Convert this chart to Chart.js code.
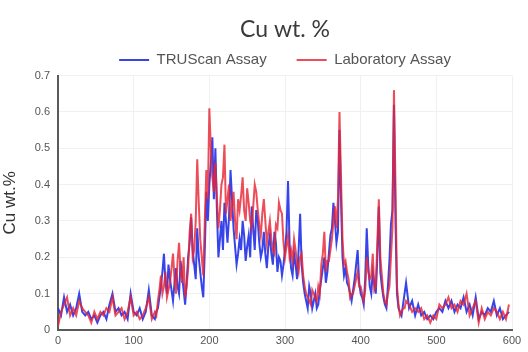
<!DOCTYPE html>
<html>
<head>
<meta charset="utf-8">
<script src="https://cdn.jsdelivr.net/npm/chart.js@4.4.0/dist/chart.umd.min.js"></script>
<style>
  html, body { margin: 0; padding: 0; background: #fff; }
  #wrap { width: 528px; height: 352px; }
</style>
</head>
<body>
<div id="wrap"><canvas id="cu" width="528" height="352"></canvas></div>
<script>
// sample depth (x) positions: every 4 at the quiet ends, every 2 in the busy middle
const depth = [
  0, 4, 8, 12, 16, 20, 24, 28, 32, 36,
  40, 44, 48, 52, 56, 60, 64, 68, 72, 76,
  80, 84, 88, 92, 96, 100, 104, 108, 112, 116,
  120, 124, 128,
  130, 132, 134, 136, 138, 140, 142, 144, 146, 148,
  150, 152, 154, 156, 158, 160, 162, 164, 166, 168,
  170, 172, 174, 176, 178, 180, 182, 184, 186, 188,
  190, 192, 194, 196, 198, 200, 202, 204, 206, 208,
  210, 212, 214, 216, 218, 220, 222, 224, 226, 228,
  230, 232, 234, 236, 238, 240, 242, 244, 246, 248,
  250, 252, 254, 256, 258, 260, 262, 264, 266, 268,
  270, 272, 274, 276, 278, 280, 282, 284, 286, 288,
  290, 292, 294, 296, 298, 300, 302, 304, 306, 308,
  310, 312, 314, 316, 318, 320, 322, 324, 326, 328,
  330, 332, 334, 336, 338, 340, 342, 344, 346, 348,
  350, 352, 354, 356, 358, 360, 362, 364, 366, 368,
  370, 372, 374, 376, 378, 380, 382, 384, 386, 388,
  390, 392, 394, 396, 398, 400, 402, 404, 406, 408,
  410, 412, 414, 416, 418, 420, 422, 424, 426, 428,
  430, 432, 434, 436, 438, 440, 442, 444, 446, 448,
  450, 452, 454, 456, 458, 460,
  464, 468, 472, 476,
  480, 484, 488, 492, 496, 500, 504, 508, 512, 516,
  520, 524, 528, 532, 536, 540, 544, 548, 552, 556,
  560, 564, 568, 572, 576, 580, 584, 588, 592, 596
];

const truscan = [
  0.06, 0.04, 0.09, 0.05, 0.07, 0.04, 0.06, 0.10, 0.05, 0.04,
  0.05, 0.03, 0.04, 0.02, 0.04, 0.05, 0.03, 0.07, 0.10, 0.05,
  0.06, 0.04, 0.05, 0.03, 0.10, 0.05, 0.04, 0.06, 0.03, 0.05,
  0.11, 0.04, 0.03,
  0.05, 0.06, 0.09, 0.12, 0.16, 0.21, 0.13, 0.10, 0.18, 0.14,
  0.11, 0.08, 0.13, 0.17, 0.12, 0.10, 0.19, 0.15, 0.11, 0.07,
  0.13, 0.20, 0.24, 0.31, 0.22, 0.18, 0.14, 0.28, 0.20, 0.16,
  0.12, 0.09, 0.22, 0.38, 0.30, 0.40, 0.46, 0.53, 0.36, 0.50,
  0.33, 0.20, 0.25, 0.30, 0.22, 0.35, 0.30, 0.24, 0.31, 0.44,
  0.36, 0.28, 0.23, 0.18, 0.21, 0.25, 0.22, 0.30, 0.26, 0.19,
  0.23, 0.26, 0.20, 0.34, 0.28, 0.22, 0.33, 0.30, 0.24, 0.20,
  0.22, 0.27, 0.21, 0.17, 0.23, 0.26, 0.21, 0.18, 0.27, 0.24,
  0.16, 0.20, 0.19, 0.15, 0.18, 0.22, 0.27, 0.41, 0.24, 0.17,
  0.15, 0.21, 0.18, 0.14, 0.22, 0.32, 0.18, 0.13, 0.10, 0.08,
  0.06, 0.12, 0.10, 0.06, 0.08, 0.10, 0.06, 0.07, 0.11, 0.14,
  0.17, 0.20, 0.13, 0.16, 0.21, 0.26, 0.28, 0.35, 0.30, 0.24,
  0.27, 0.55, 0.36, 0.20, 0.15, 0.17, 0.13, 0.12, 0.10, 0.08,
  0.11, 0.14, 0.18, 0.22, 0.13, 0.10, 0.09, 0.07, 0.14, 0.28,
  0.18, 0.12, 0.10, 0.16, 0.13, 0.10, 0.20, 0.34, 0.16, 0.12,
  0.09, 0.07, 0.06, 0.12, 0.19, 0.29, 0.33, 0.62, 0.30, 0.10,
  0.06, 0.05, 0.04, 0.07, 0.10, 0.13,
  0.06, 0.08, 0.04, 0.07,
  0.04, 0.05, 0.03, 0.04, 0.03, 0.05, 0.06, 0.05, 0.08, 0.06,
  0.08, 0.05, 0.07, 0.06, 0.09, 0.05, 0.07, 0.04, 0.09, 0.03,
  0.05, 0.04, 0.06, 0.05, 0.08, 0.04, 0.06, 0.03, 0.04, 0.05
];

const laboratory = [
  0.01, 0.05, 0.07, 0.09, 0.04, 0.06, 0.04, 0.08, 0.06, 0.05,
  0.04, 0.02, 0.05, 0.03, 0.05, 0.04, 0.06, 0.05, 0.09, 0.04,
  0.05, 0.06, 0.03, 0.05, 0.09, 0.04, 0.05, 0.03, 0.04, 0.06,
  0.09, 0.03, 0.05,
  0.04, 0.08, 0.11, 0.15, 0.10, 0.12, 0.16, 0.09, 0.11, 0.13,
  0.17, 0.21, 0.14, 0.10, 0.19, 0.24, 0.16, 0.13, 0.20, 0.09,
  0.12, 0.17, 0.27, 0.32, 0.20, 0.22, 0.30, 0.47, 0.35, 0.25,
  0.20, 0.15, 0.30, 0.44, 0.36, 0.61, 0.50, 0.42, 0.38, 0.46,
  0.36, 0.28, 0.33, 0.40, 0.42, 0.51, 0.32, 0.36, 0.40, 0.30,
  0.34, 0.38, 0.30, 0.25, 0.36, 0.33, 0.37, 0.42, 0.33, 0.30,
  0.39, 0.35, 0.30, 0.28, 0.34, 0.40, 0.38, 0.33, 0.29, 0.26,
  0.32, 0.36, 0.30, 0.24, 0.27, 0.30, 0.25, 0.22, 0.21, 0.29,
  0.28, 0.35, 0.33, 0.32, 0.24, 0.20, 0.23, 0.26, 0.20, 0.22,
  0.19, 0.25, 0.22, 0.18, 0.16, 0.20, 0.21, 0.15, 0.12, 0.10,
  0.09, 0.08, 0.07, 0.11, 0.10, 0.09, 0.08, 0.12, 0.10, 0.18,
  0.21, 0.27, 0.16, 0.19, 0.19, 0.22, 0.25, 0.30, 0.34, 0.28,
  0.36, 0.60, 0.42, 0.25, 0.18, 0.19, 0.16, 0.14, 0.09, 0.10,
  0.10, 0.12, 0.14, 0.16, 0.12, 0.12, 0.10, 0.08, 0.11, 0.20,
  0.16, 0.14, 0.15, 0.21, 0.11, 0.12, 0.24, 0.36, 0.20, 0.15,
  0.10, 0.08, 0.07, 0.10, 0.12, 0.20, 0.28, 0.66, 0.40, 0.12,
  0.07, 0.04, 0.05, 0.06, 0.06, 0.08,
  0.07, 0.05, 0.06, 0.05,
  0.06, 0.03, 0.04, 0.02, 0.04, 0.03, 0.07, 0.06, 0.07, 0.09,
  0.06, 0.07, 0.05, 0.08, 0.07, 0.10, 0.04, 0.06, 0.08, 0.02,
  0.06, 0.03, 0.05, 0.04, 0.06, 0.05, 0.03, 0.05, 0.03, 0.07
];

const yTicks = [0, 0.1, 0.2, 0.3, 0.4, 0.5, 0.6, 0.7];
const xTicks = [0, 100, 200, 300, 400, 500, 600];

const toPoints = (vals) => vals.map((v, i) => ({ x: depth[i], y: v }));

const ctx = document.getElementById('cu').getContext('2d');

new Chart(ctx, {
  type: 'line',
  data: {
    datasets: [
      {
        label: 'TRUScan Assay',
        data: toPoints(truscan),
        borderColor: 'rgba(38, 52, 232, 0.92)',
        backgroundColor: 'rgba(38, 52, 232, 0.92)',
        borderWidth: 2,
        pointRadius: 0,
        tension: 0,
        order: 2,
      },
      {
        label: 'Laboratory Assay',
        data: toPoints(laboratory),
        borderColor: 'rgba(232, 38, 52, 0.82)',
        backgroundColor: 'rgba(232, 38, 52, 0.82)',
        borderWidth: 2,
        pointRadius: 0,
        tension: 0,
        order: 1,
      },
    ],
  },
  options: {
    responsive: false,
    animation: false,
    layout: { padding: { left: 0, right: 16, top: 0, bottom: 0 } },
    plugins: {
      title: {
        display: true,
        fullSize: false,
        text: 'Cu wt. %',
        color: '#3a3a3a',
        font: { family: 'Lato', size: 23, weight: 'normal' },
        padding: { top: 16, bottom: -21 },
      },
      legend: {
        position: 'top',
        fullSize: false,
        maxHeight: 53,
        labels: {
          color: '#555',
          font: { family: 'Liberation Sans', size: 15 },
          boxWidth: 30,
          boxHeight: 2,
          padding: 30,
          sort: (a, b) => a.datasetIndex - b.datasetIndex,
          generateLabels: (chart) => {
            const items = Chart.defaults.plugins.legend.labels.generateLabels(chart);
            items.forEach(it => { it.lineWidth = 0; });
            return items;
          },
        },
      },
      tooltip: { enabled: false },
    },
    scales: {
      x: {
        type: 'linear',
        min: 0,
        max: 600,
        afterBuildTicks: (s) => { s.ticks = xTicks.map(v => ({ value: v })); },
        afterFit: (s) => { s.height = 22; },
        ticks: { color: '#555', font: { family: 'Liberation Sans', size: 11 }, padding: 4, maxRotation: 0 },
        grid: { color: '#f0f0f0', drawTicks: false },
        border: { color: '#5a5a5a', width: 2 },
      },
      y: {
        min: 0,
        max: 0.7,
        afterBuildTicks: (s) => { s.ticks = yTicks.map(v => ({ value: v })); },
        afterFit: (s) => { s.width = 58; },
        ticks: { color: '#555', font: { family: 'Liberation Sans', size: 11 }, padding: 8 },
        grid: { color: '#f0f0f0', drawTicks: false },
        border: { color: '#5a5a5a', width: 2 },
        title: {
          display: true,
          text: 'Cu wt.%',
          color: '#333',
          font: { family: 'Liberation Sans', size: 17 },
          padding: { top: 0, bottom: 0 },
        },
      },
    },
  },
});
</script>
</body>
</html>
